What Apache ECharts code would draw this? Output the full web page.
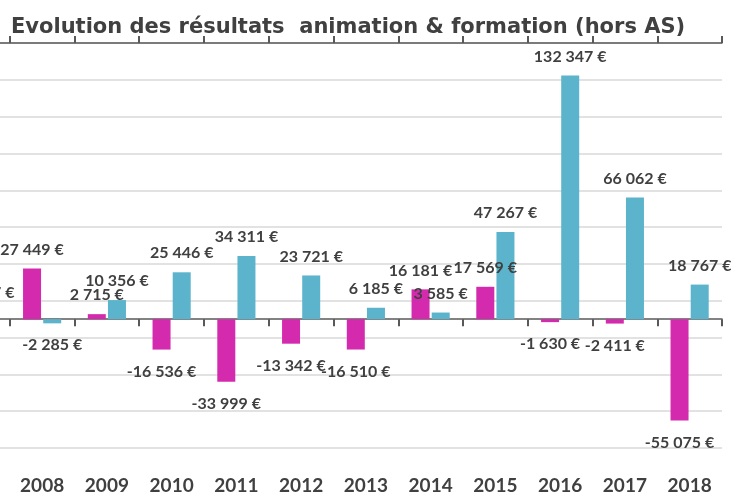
<!DOCTYPE html>
<html>
<head>
<meta charset="utf-8">
<script src="https://cdn.jsdelivr.net/npm/echarts@6/dist/echarts.min.js"></script>
<style>
  html, body { margin: 0; padding: 0; background: #fff; overflow: hidden; }
  #wrap { position: relative; width: 731px; height: 495px; overflow: hidden; }
  /* le graphique d'origine est coupe a gauche (2007) */
  #main { position: absolute; left: -55px; top: 0; width: 786px; height: 495px; }
</style>
</head>
<body>
<div id="wrap"><div id="main"></div></div>
<script>
// annees (2007 est coupee a gauche dans l'image)
var annees = ['2007', '2008', '2009', '2010', '2011', '2012', '2013', '2014', '2015', '2016', '2017', '2018'];
var animation = [44512, 27449, 2715, -16536, -33999, -13342, -16510, 16181, 17569, -1630, -2411, -55075];
var formation = [4217, -2285, 10356, 25446, 34311, 23721, 6185, 3585, 47267, 132347, 66062, 18767];

var textColor = '#404040';

function euros(v) {
    var s = String(Math.abs(v)).replace(/\B(?=(\d{3})+(?!\d))/g, ' ');
    return (v < 0 ? '-' : '') + s + ' €';
}

function barData(arr) {
    return arr.map(function (v) {
        return {
            value: v,
            label: v < 0 ? { position: 'bottom', distance: 14 } : { position: 'top', distance: 11 }
        };
    });
}

var myChart = echarts.init(document.getElementById('main'));

var option = {
    animation: false,
    title: {
        text: 'Evolution des résultats  animation & formation (hors AS)',
        left: 61,
        top: 12,
        textStyle: {
            fontFamily: 'DejaVu Sans',
            fontWeight: 'bold',
            fontSize: 21,
            color: textColor
        }
    },
    grid: {
        left: 0,
        right: 9,
        top: 43,
        bottom: 47
    },
    xAxis: [
        {
            // libelles en bas
            type: 'category',
            data: annees,
            position: 'bottom',
            axisLine: { show: false, onZero: false },
            axisTick: { show: false },
            axisLabel: {
                margin: 28,
                fontFamily: 'Lato',
                fontWeight: 'bold',
                fontSize: 19,
                color: textColor
            }
        },
        {
            // ligne du zero, graduations vers le bas
            type: 'category',
            data: annees,
            position: 'bottom',
            axisLine: { onZero: true, lineStyle: { color: '#595959', width: 1.5 } },
            axisTick: { show: true, length: 7, lineStyle: { color: '#595959', width: 2 } },
            axisLabel: { show: false }
        },
        {
            // graduations vers le haut
            type: 'category',
            data: annees,
            position: 'top',
            axisLine: { onZero: true, lineStyle: { color: '#595959', width: 1.5 } },
            axisTick: { show: true, length: 7, lineStyle: { color: '#595959', width: 2 } },
            axisLabel: { show: false }
        }
    ],
    yAxis: {
        type: 'value',
        min: -70000,
        max: 150000,
        interval: 20000,
        axisLine: { show: false },
        axisTick: { show: false },
        axisLabel: { show: false },
        splitLine: { lineStyle: { color: '#d9d9d9', width: 1.5 } }
    },
    series: [
        {
            name: 'animation',
            type: 'bar',
            xAxisIndex: 0,
            data: barData(animation),
            barWidth: 18,
            barGap: '12%',
            itemStyle: { color: '#d42aae' },
            label: {
                show: true,
                formatter: function (p) { return euros(p.value); },
                fontFamily: 'Lato',
                fontWeight: 'bold',
                fontSize: 16,
                color: textColor
            }
        },
        {
            name: 'formation',
            type: 'bar',
            xAxisIndex: 0,
            data: barData(formation),
            barWidth: 18,
            itemStyle: { color: '#5bb4cb' },
            label: {
                show: true,
                formatter: function (p) { return euros(p.value); },
                fontFamily: 'Lato',
                fontWeight: 'bold',
                fontSize: 16,
                color: textColor
            }
        }
    ]
};
myChart.setOption(option);
</script>
</body>
</html>
